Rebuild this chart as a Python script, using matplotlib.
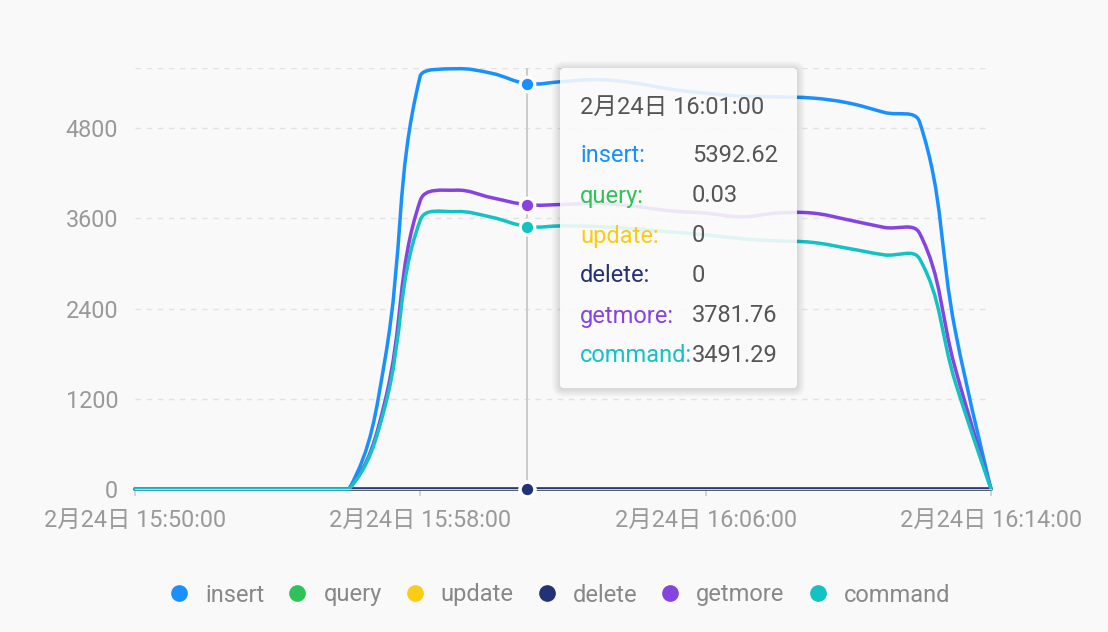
import numpy as np
import pandas as pd
import matplotlib
matplotlib.use("Agg")
import matplotlib.pyplot as plt
from matplotlib.path import Path
from matplotlib.patches import PathPatch, FancyBboxPatch
from matplotlib.lines import Line2D
from matplotlib.transforms import IdentityTransform

plt.rcParams['font.family'] = ['Roboto', 'Noto Sans CJK SC', 'DejaVu Sans']

# ---------------------------------
# Data (one point per minute)
# ---------------------------------
times = pd.date_range("2024-02-24 15:50:00", "2024-02-24 16:14:00", freq="min")

insert = [0, 0, 0, 0, 0, 0, 0, 1700, 5500, 5590, 5530, 5392.62, 5420, 5445,
          5400, 5320, 5265, 5225, 5215, 5200, 5135, 5010, 4880, 2100, 0]
query = [0, 0, 0, 0, 0, 0, 0, 0.02, 0.03, 0.03, 0.03, 0.03, 0.03, 0.03,
         0.03, 0.03, 0.03, 0.03, 0.03, 0.03, 0.03, 0.03, 0.03, 0.02, 0]
update = [0] * 25
delete = [0] * 25
getmore = [0, 0, 0, 0, 0, 0, 0, 1150, 3840, 3975, 3875, 3781.76, 3785, 3800,
           3760, 3700, 3670, 3620, 3670, 3670, 3580, 3480, 3400, 1600, 0]
command = [0, 0, 0, 0, 0, 0, 0, 1080, 3580, 3690, 3615, 3491.29, 3500, 3490,
           3460, 3420, 3380, 3330, 3300, 3280, 3200, 3115, 3060, 1420, 0]

names = ["insert", "query", "update", "delete", "getmore", "command"]
values = [insert, query, update, delete, getmore, command]
colors = ["#1890ff", "#2fc25b", "#facc14", "#223273", "#8543e0", "#13c2c2"]

hover_idx = 11
x_ticks = [0, 8, 16, 24]
y_ticks = [0, 1200, 2400, 3600, 4800]
y_max = 5600


def tick_label(t):
    return f"{t.month}月{t.day}日 {t:%H:%M:%S}"


def smooth_path(ax, xs, ys, smooth=0.4):
    # catmull-rom style bezier, control points kept inside the plot box
    pts = ax.transData.transform(np.column_stack([xs, ys]))
    (x0, y0), (x1, y1) = ax.transData.transform([(xs[0], 0), (xs[-1], y_max)])
    n = len(pts)
    c_in, c_out = [], []
    for i in range(n):
        p = pts[i]
        if i == 0 or i == n - 1:
            c_in.append(p.copy())
            c_out.append(p.copy())
            continue
        prev, nxt = pts[i - 1], pts[i + 1]
        v = (nxt - prev) * smooth
        d0 = np.hypot(*(p - prev))
        d1 = np.hypot(*(nxt - p))
        s = d0 + d1
        if s > 0:
            d0, d1 = d0 / s, d1 / s
        a = p - v * d0
        b = p + v * d1
        for c in (a, b):
            c[0] = min(max(c[0], x0), x1)
            c[1] = min(max(c[1], y0), y1)
        c_in.append(a)
        c_out.append(b)
    verts = [pts[0]]
    codes = [Path.MOVETO]
    for i in range(1, n):
        verts += [c_out[i - 1], c_in[i], pts[i]]
        codes += [Path.CURVE4] * 3
    verts = ax.transData.inverted().transform(np.array(verts))
    return Path(verts, codes)


# ---------------------------------
# Figure
# ---------------------------------
fig = plt.figure(figsize=(11.08, 6.32), dpi=100)
fig.patch.set_facecolor("#f9f9f9")
ax = fig.add_axes([135 / 1108, 1 - 489 / 632, (991 - 135) / 1108, (489 - 68) / 632])
ax.set_facecolor("none")
ax.set_xlim(0, len(times) - 1)
ax.set_ylim(0, y_max)

for s in ["top", "right", "left"]:
    ax.spines[s].set_visible(False)
ax.spines["bottom"].set_color("#cccccc")

for y in y_ticks[1:] + [y_max]:
    ax.axhline(y, color="#e2e2e2", lw=1, ls=(0, (4, 4)), zorder=0)

ax.set_yticks(y_ticks)
ax.set_yticklabels([str(v) for v in y_ticks])
ax.set_xticks(x_ticks)
ax.set_xticklabels([tick_label(times[i]) for i in x_ticks])
ax.tick_params(axis="y", length=0, pad=12, labelsize=16.8, labelcolor="#999999")
ax.tick_params(axis="x", length=5, width=1.2, color="#cccccc", pad=9,
               labelsize=16.8, labelcolor="#999999")

# crosshair
ax.axvline(hover_idx, color="#c8c8c8", lw=1.3, zorder=1)

minutes = np.arange(len(times))
for vals, c, z in zip(values, colors, range(len(values))):
    path = smooth_path(ax, minutes, vals)
    ax.add_patch(PathPatch(path, fill=False, ec=c, lw=2.5, capstyle="round",
                           joinstyle="round", zorder=2 + z * 0.1, clip_on=False))

# hover markers
for vals, c in zip(values, colors):
    ax.plot(hover_idx, vals[hover_idx], "o", ms=10.5, mfc=c, mec="white",
            mew=2.3, zorder=5 + (1 if vals is delete else 0), clip_on=False)

# ---------------------------------
# Tooltip
# ---------------------------------
bx, by, bw, bh = 560, 632 - 388, 237, 320
for i in range(1, 9):
    fig.add_artist(FancyBboxPatch((bx - i, by - i - 1), bw + 2 * i, bh + 2 * i,
                                  boxstyle="round,pad=0,rounding_size=%d" % (4 + i),
                                  transform=IdentityTransform(), fc="black",
                                  ec="none", alpha=0.014, zorder=8))
fig.add_artist(FancyBboxPatch((bx, by), bw, bh, boxstyle="round,pad=0,rounding_size=4",
                              transform=IdentityTransform(), fc="white", ec="none",
                              alpha=0.88, zorder=9))

fig.text(580 / 1108, 1 - 107 / 632, tick_label(times[hover_idx]), color="#555555",
         fontsize=17, va="center", ha="left", zorder=10)
row_y = [156, 196, 236, 276, 316, 355]
for name, vals, c, ry in zip(names, values, colors, row_y):
    fig.text(580 / 1108, 1 - ry / 632, name + ":", color=c, fontsize=17,
             va="center", ha="left", zorder=10)
    fig.text(692 / 1108, 1 - ry / 632, f"{vals[hover_idx]:g}", color="#555555",
             fontsize=17, va="center", ha="left", zorder=10)

# ---------------------------------
# Legend
# ---------------------------------
handles = [Line2D([], [], marker="o", ls="none", ms=11, color=c) for c in colors]
leg = fig.legend(handles, names, loc="center", bbox_to_anchor=(560 / 1108, 1 - 595 / 632),
                 ncol=6, frameon=False, fontsize=17, labelcolor="#888888",
                 handlelength=0.8, handletextpad=0.7, columnspacing=1.0)

fig.savefig("out.png", dpi=100, facecolor=fig.get_facecolor())
